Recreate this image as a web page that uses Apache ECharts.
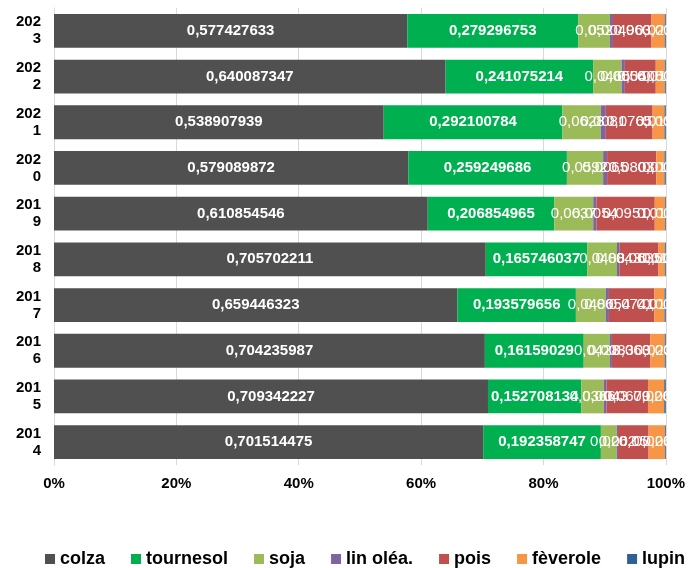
<!DOCTYPE html>
<html>
<head>
<meta charset="utf-8">
<script src="https://cdn.jsdelivr.net/npm/echarts@6/dist/echarts.min.js"></script>
<style>
html,body{margin:0;padding:0;background:#fff;}
#chart{width:688px;height:568px;}
</style>
</head>
<body>
<div id="chart"></div>
<script>
var years = ['2023','2022','2021','2020','2019','2018','2017','2016','2015','2014'];
var colza = [0.577427633, 0.640087347, 0.538907939, 0.579089872, 0.610854546, 0.705702211, 0.659446323, 0.704235987, 0.709342227, 0.701514475];
var tournesol = [0.279296753, 0.241075214, 0.292100784, 0.259249686, 0.206854965, 0.165746037, 0.193579656, 0.16159029, 0.152708134, 0.192358747];
var soja = [0.0520, 0.0465, 0.0628, 0.0592, 0.0637, 0.0488, 0.0486, 0.0428, 0.0366, 0.0260];
var linOlea = [0.0049, 0.0054, 0.0081, 0.0065, 0.0054, 0.0043, 0.0054, 0.0033, 0.0043, 0.0020];
var pois = [0.0630, 0.0505, 0.0765, 0.0803, 0.0951, 0.0635, 0.0741, 0.0630, 0.0679, 0.0500];
var feverole = [0.0217, 0.0147, 0.0195, 0.0136, 0.0168, 0.0103, 0.0168, 0.0233, 0.0266, 0.0266];
var lupin = [0.0017, 0.0017, 0.0021, 0.0021, 0.0013, 0.0017, 0.0021, 0.0018, 0.0025, 0.0015];
var xTicks = [0, 0.2, 0.4, 0.6, 0.8, 1];

var FONT = '"Liberation Sans", Arial, sans-serif';
var seriesDefs = [
  {name: 'colza', data: colza, color: '#505050', bold: true},
  {name: 'tournesol', data: tournesol, color: '#00b050', bold: true},
  {name: 'soja', data: soja, color: '#9bbb59', bold: false},
  {name: 'lin oléa.', data: linOlea, color: '#8064a2', bold: false},
  {name: 'pois', data: pois, color: '#c0504d', bold: false},
  {name: 'fèverole', data: feverole, color: '#f79646', bold: false},
  {name: 'lupin', data: lupin, color: '#2f6094', bold: false}
];

var chart = echarts.init(document.getElementById('chart'), null, {renderer: 'canvas'});
chart.setOption({
  animation: false,
  backgroundColor: '#ffffff',
  grid: {left: 54, right: 20, top: 8, bottom: 103, containLabel: false},
  legend: {
    data: seriesDefs.map(function (s) { return s.name; }),
    left: 40, top: 545, width: 660, padding: 5,
    itemWidth: 10, itemHeight: 10, itemGap: 26,
    icon: 'rect',
    textStyle: {fontFamily: FONT, fontSize: 18, fontWeight: 'bold', color: '#000'}
  },
  xAxis: {
    type: 'value', min: 0, max: 1, interval: 0.2,
    axisLine: {show: false},
    axisTick: {show: false},
    splitLine: {show: true, lineStyle: {color: '#d9d9d9', width: 1}},
    axisLabel: {
      margin: 11,
      fontFamily: FONT, fontSize: 15, fontWeight: 'bold', color: '#000',
      formatter: function (v) { return Math.round(v * 100) + '%'; }
    }
  },
  yAxis: {
    type: 'category', data: years, inverse: true,
    axisLine: {show: true, lineStyle: {color: '#d9d9d9', width: 1}},
    axisTick: {show: false},
    axisLabel: {
      margin: 13, lineHeight: 17,
      fontFamily: FONT, fontSize: 15, fontWeight: 'bold', color: '#000',
      formatter: function (v) { return v.slice(0, 3) + '\n' + v.slice(3); }
    }
  },
  series: seriesDefs.map(function (s) {
    return {
      name: s.name, type: 'bar', stack: 'total',
      data: s.data,
      barCategoryGap: '26%',
      itemStyle: {color: s.color},
      label: {
        show: true, position: 'inside',
        color: '#fff', fontFamily: FONT, fontSize: 15,
        fontWeight: s.bold ? 'bold' : 'normal',
        formatter: function (p) { return String(p.value).replace('.', ','); }
      }
    };
  })
});
</script>
</body>
</html>
